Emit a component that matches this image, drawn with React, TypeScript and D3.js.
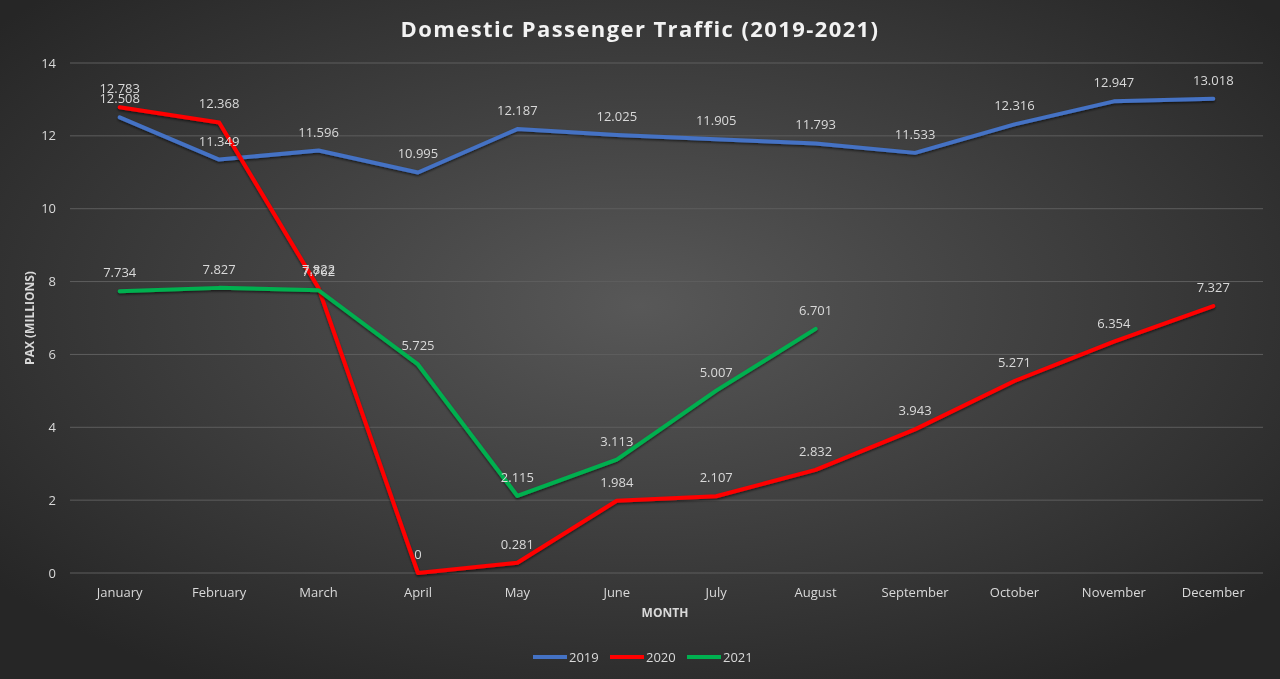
import React from 'react';
import * as d3 from 'd3';

const months = ['January', 'February', 'March', 'April', 'May', 'June', 'July', 'August', 'September', 'October', 'November', 'December'];
const pax2019 = [12.508, 11.349, 11.596, 10.995, 12.187, 12.025, 11.905, 11.793, 11.533, 12.316, 12.947, 13.018];
const pax2020 = [12.783, 12.368, 7.822, 0, 0.281, 1.984, 2.107, 2.832, 3.943, 5.271, 6.354, 7.327];
const pax2021 = [7.734, 7.827, 7.762, 5.725, 2.115, 3.113, 5.007, 6.701];
const yTicks = [0, 2, 4, 6, 8, 10, 12, 14];

const series = [
    { name: '2019', values: pax2019, color: '#4472C4' },
    { name: '2020', values: pax2020, color: '#FF0000' },
    { name: '2021', values: pax2021, color: '#00B050' },
];

const W = 1280;
const H = 679;
const margin = { top: 63, right: 17, bottom: 106, left: 70 };
const font = '"Open Sans", "Liberation Sans", sans-serif';

export default function App() {
    const x = d3.scaleBand<string>()
        .domain(months)
        .range([margin.left, W - margin.right]);
    const y = d3.scaleLinear()
        .domain([0, 14])
        .range([H - margin.bottom, margin.top]);
    const cx = (m: string) => (x(m) ?? 0) + x.bandwidth() / 2;

    const line = d3.line<number>()
        .x((_, i) => cx(months[i]))
        .y(d => y(d));

    // legend
    const legendItems = series.map((s, i) => ({ ...s, x: 533 + i * 77 }));

    return (
        <div style={{ position: 'fixed', left: 0, top: 0 }}>
            <svg width={W} height={H} style={{ display: 'block' }}>
                <defs>
                    <radialGradient id="bg" cx="50%" cy="45%" r="65%">
                        <stop offset="0%" stopColor="#585858" />
                        <stop offset="100%" stopColor="#262626" />
                    </radialGradient>
                    <filter id="shadow" x="-5%" y="-5%" width="110%" height="120%">
                        <feDropShadow dx="0" dy="1.5" stdDeviation="1.2" floodColor="#000" floodOpacity="0.6" />
                    </filter>
                </defs>
                <rect width={W} height={H} fill="url(#bg)" />

                <text x={640} y={37} textAnchor="middle" fill="#f2f2f2" fontFamily={font}
                    fontWeight={700} fontSize={22} letterSpacing={1.4}>
                    Domestic Passenger Traffic (2019-2021)
                </text>

                {yTicks.map(t => (
                    <g key={t}>
                        <line x1={margin.left} x2={W - margin.right} y1={y(t)} y2={y(t)}
                            stroke="#5e5e5e" strokeWidth={1} />
                        <text x={56} y={y(t)} dy="0.35em" textAnchor="end" fill="#d9d9d9"
                            fontFamily={font} fontSize={13}>{t}</text>
                    </g>
                ))}

                {months.map(m => (
                    <text key={m} x={cx(m)} y={597} textAnchor="middle" fill="#d9d9d9"
                        fontFamily={font} fontSize={13}>{m}</text>
                ))}

                <text x={665} y={617} textAnchor="middle" fill="#d9d9d9" fontFamily={font}
                    fontWeight={700} fontSize={12}>MONTH</text>
                <text transform={`translate(34,${y(7)}) rotate(-90)`} textAnchor="middle" fill="#d9d9d9"
                    fontFamily={font} fontWeight={700} fontSize={12}>PAX (MILLIONS)</text>

                {series.map(s => (
                    <path key={s.name} d={line(s.values) ?? ''} fill="none" stroke={s.color}
                        strokeWidth={4} strokeLinejoin="round" strokeLinecap="round" filter="url(#shadow)" />
                ))}

                {series.map(s => s.values.map((v, i) => (
                    <text key={s.name + i} x={cx(months[i])} y={y(v) - 14} textAnchor="middle"
                        fill="#d9d9d9" fontFamily={font} fontSize={13}>{v}</text>
                )))}

                {legendItems.map(s => (
                    <g key={s.name}>
                        <line x1={s.x} x2={s.x + 34} y1={657} y2={657} stroke={s.color} strokeWidth={4} />
                        <text x={s.x + 36} y={657} dy="0.35em" fill="#d9d9d9" fontFamily={font}
                            fontSize={13}>{s.name}</text>
                    </g>
                ))}
            </svg>
        </div>
    );
}
